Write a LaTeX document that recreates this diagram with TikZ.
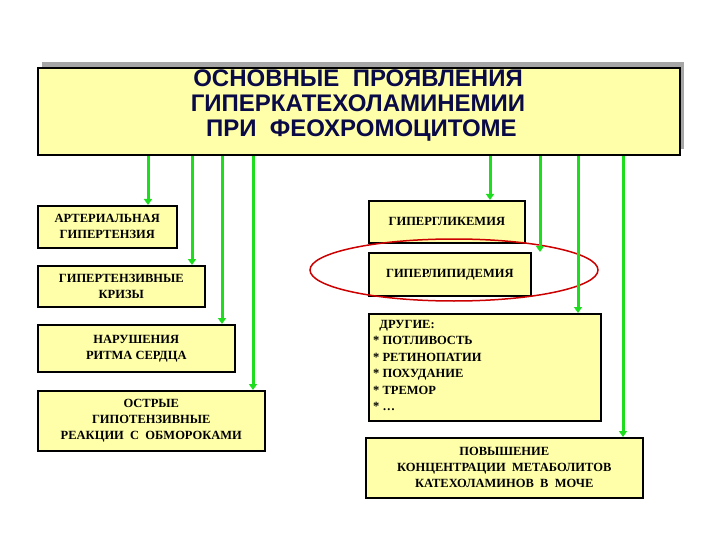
\documentclass[tikz,border=0pt]{standalone}
\usepackage{fontspec}
\setmainfont{Liberation Serif}
\newfontfamily\titlefont{Liberation Sans}
\usetikzlibrary{arrows.meta,shapes.geometric}
\definecolor{boxy}{RGB}{255,255,170}
\definecolor{navy}{RGB}{10,10,70}
\definecolor{arrg}{RGB}{30,220,30}
\tikzset{x=1pt,y=-1pt,
 item/.style={draw=black,line width=1.6pt,fill=boxy,font=\bfseries\fontsize{12.5}{16}\selectfont,align=center,inner sep=2pt},
 arr/.style={draw=arrg,line width=3pt,-{Triangle[length=6pt,width=8pt]}}}
\begin{document}
\begin{tikzpicture}
\useasboundingbox (0,0) rectangle (720,540);
\fill[gray!70] (42,62) rectangle (684,149);
\node[draw=black,line width=2pt,fill=boxy,minimum width=642pt,minimum height=87pt,anchor=north west,inner sep=0pt] (top) at (37,67) {};
\node[font=\titlefont\bfseries\fontsize{24}{25}\selectfont,text=navy,align=center] (title) at (358,106) {ОСНОВНЫЕ\ \ ПРОЯВЛЕНИЯ\\ГИПЕРКАТЕХОЛАМИНЕМИИ\\\ ПРИ\ \ ФЕОХРОМОЦИТОМЕ};
\node[item,minimum width=139pt,minimum height=42pt,anchor=north west] (a1) at (37,205) {АРТЕРИАЛЬНАЯ\\ГИПЕРТЕНЗИЯ};
\node[item,minimum width=167pt,minimum height=41pt,anchor=north west] (a2) at (37,265) {ГИПЕРТЕНЗИВНЫЕ\\КРИЗЫ};
\node[item,minimum width=197pt,minimum height=47pt,anchor=north west] (a3) at (37,324) {НАРУШЕНИЯ\\РИТМА СЕРДЦА};
\node[item,minimum width=227pt,minimum height=60pt,anchor=north west] (a4) at (37,390) {ОСТРЫЕ\\ГИПОТЕНЗИВНЫЕ\\РЕАКЦИИ\ \ С\ \ ОБМОРОКАМИ};
\node[item,minimum width=156pt,minimum height=42pt,anchor=north west] (b1) at (368,200) {ГИПЕРГЛИКЕМИЯ};
\node[item,minimum width=162pt,minimum height=43pt,anchor=north west] (b2) at (368,252) {ГИПЕРЛИПИДЕМИЯ};
\node[item,minimum width=232pt,minimum height=107pt,anchor=north west] (b3) at (368,313) {};
\node[font=\bfseries\fontsize{12.5}{16.5}\selectfont,align=left,anchor=north west,inner sep=0pt] (b3t) at (373,320) {\ \ ДРУГИЕ:\\* ПОТЛИВОСТЬ\\* РЕТИНОПАТИИ\\* ПОХУДАНИЕ\\* ТРЕМОР\\* …};
\node[item,minimum width=277pt,minimum height=60pt,anchor=north west] (b4) at (365,437) {ПОВЫШЕНИЕ\\КОНЦЕНТРАЦИИ\ \ МЕТАБОЛИТОВ\\КАТЕХОЛАМИНОВ\ \ В\ \ МОЧЕ};
\node[draw=red!80!black,line width=1.5pt,ellipse,minimum width=288pt,minimum height=62pt] (ell) at (454,270) {};
\foreach \x/\n in {148/a1,192/a2,222/a3,253/a4,490/b1,540/b2,578/b3,623/b4}
  \draw[arr] (top.south -| \x,0) -- (\n.north -| \x,0);
\end{tikzpicture}
\end{document}
